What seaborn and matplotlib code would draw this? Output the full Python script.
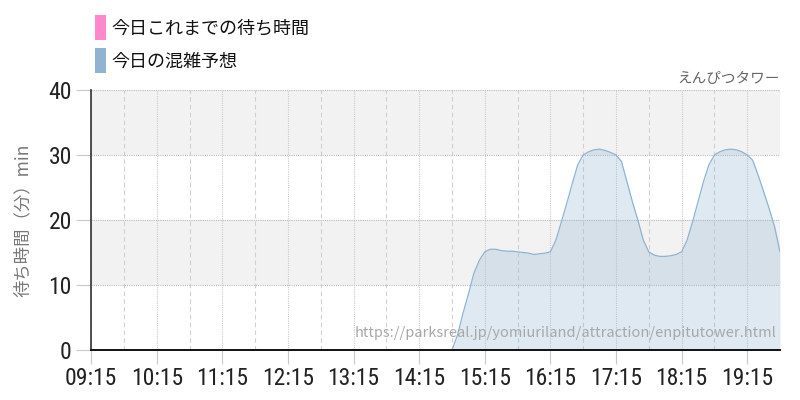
import matplotlib
matplotlib.use('Agg')
import matplotlib.pyplot as plt
import matplotlib.dates as mdates
from matplotlib.patches import Patch
import pandas as pd
import seaborn as sns

# 今日の混雑予想 (minutes)
times = [
    '09:15', '14:30', '14:35', '14:40',
    '14:45', '14:50', '14:55', '15:00', '15:05', '15:10',
    '15:15', '15:20', '15:25', '15:30', '15:35', '15:40',
    '15:45', '15:50', '15:55', '16:00', '16:05', '16:10',
    '16:15', '16:20', '16:25', '16:30', '16:35', '16:40',
    '16:45', '16:50', '16:55', '17:00', '17:05', '17:10',
    '17:15', '17:20', '17:25', '17:30', '17:35', '17:40',
    '17:45', '17:50', '17:55', '18:00', '18:05', '18:10',
    '18:15', '18:20', '18:25', '18:30', '18:35', '18:40',
    '18:45', '18:50', '18:55', '19:00', '19:05', '19:10',
    '19:15', '19:20', '19:25', '19:30', '19:35', '19:40',
    '19:45',
]
forecast = [
    0.0, 0.0, -0.2, -0.2,
    0.0, 2.3, 5.6, 8.6, 11.8, 13.8,
    15.1, 15.5, 15.5, 15.3, 15.2, 15.2,
    15.1, 15.0, 14.9, 14.7, 14.8, 14.9,
    15.1, 16.9, 19.7, 22.6, 25.6, 28.5,
    30.0, 30.5, 30.8, 30.9, 30.7, 30.4,
    30.0, 29.0, 25.9, 22.8, 20.0, 16.9,
    15.1, 14.6, 14.4, 14.4, 14.5, 14.7,
    15.1, 16.9, 19.7, 22.8, 25.9, 28.5,
    30.0, 30.5, 30.8, 30.9, 30.8, 30.5,
    30.0, 29.2, 26.9, 24.4, 21.8, 19.0,
    15.1,
]
series_names = ['今日これまでの待ち時間', '今日の混雑予想']
series_colors = ['#ff88cc', '#8fb3d1']
y_ticks = [0, 10, 20, 30, 40]

df = pd.DataFrame({'time': pd.to_datetime(['2024-01-01 ' + t for t in times]),
                   'wait': forecast})

sns.set_theme(style='white')
plt.rcParams['font.family'] = ['Noto Sans CJK JP', 'DejaVu Sans']

num_font = ['Roboto Condensed', 'DejaVu Sans']

fig = plt.figure(figsize=(8, 4), dpi=100)
ax = fig.add_axes([0.114, 0.125, 0.861, 0.65])

# alternating bands
for lo in (10, 30):
    ax.axhspan(lo, lo + 10, color='#f2f2f2', zorder=0, lw=0)

ax.fill_between(df['time'], df['wait'], 0, color=series_colors[1], alpha=0.28, lw=0, zorder=2)
sns.lineplot(data=df, x='time', y='wait', ax=ax, color=series_colors[1], lw=0.9, zorder=3)

ax.set_xlim(df['time'].iloc[0], df['time'].iloc[-1])
ax.set_ylim(0, 40)
ax.set_yticks(y_ticks)

ax.xaxis.set_major_locator(mdates.MinuteLocator(byminute=[15]))
ax.xaxis.set_minor_locator(mdates.MinuteLocator(byminute=[45]))
ax.xaxis.set_major_formatter(mdates.DateFormatter('%H:%M'))

ax.grid(axis='y', which='major', color='#bbbbbb', ls=(0, (1, 1)), lw=0.8, zorder=1)
ax.grid(axis='x', which='major', color='#cccccc', ls=(0, (1, 1)), lw=0.8, zorder=1)
ax.grid(axis='x', which='minor', color='#d0d0d0', ls=(0, (4, 3)), lw=0.8, zorder=1)
ax.set_axisbelow(True)

ax.tick_params(axis='y', which='major', length=11, width=0.8, color='#c8c8c8',
               pad=3, labelsize=17, labelcolor='#222222', left=True)
ax.tick_params(axis='x', which='major', length=10, width=0.8, color='#c8c8c8',
               pad=2, labelsize=17, labelcolor='#222222', bottom=True)
ax.tick_params(axis='x', which='minor', length=0)
for lab in ax.get_xticklabels() + ax.get_yticklabels():
    lab.set_family(num_font)

for s in ('top', 'right'):
    ax.spines[s].set_visible(False)
ax.spines['left'].set_color('#333333')
ax.spines['left'].set_linewidth(1.2)
ax.spines['bottom'].set_color('#111111')
ax.spines['bottom'].set_linewidth(1.4)
ax.spines['bottom'].set_zorder(4)

ax.set_xlabel('')
ax.set_ylabel('')
fig.text(0.028, 0.45, '待ち時間（分）min', rotation=90, ha='center', va='center',
         fontsize=12.5, color='#777777')

fig.text(0.975, 0.785, 'えんぴつタワー', ha='right', va='bottom', fontsize=10.5, color='#666666')

ax.text(0.995, 0.04, 'https://parksreal.jp/yomiuriland/attraction/enpitutower.html',
        transform=ax.transAxes, ha='right', va='bottom', fontsize=10.5,
        color='#a8a8a8', zorder=5)

handles = [Patch(facecolor=c, edgecolor='none') for c in series_colors]
fig.legend(handles, series_names, loc='upper left', bbox_to_anchor=(95 / 800, 1 - 15 / 400),
           frameon=False, fontsize=13, handlelength=0.62, handleheight=1.75,
           handletextpad=0.3, labelspacing=0.45, borderpad=0, borderaxespad=0,
           labelcolor='#111111')

fig.savefig('out.png', dpi=100)
